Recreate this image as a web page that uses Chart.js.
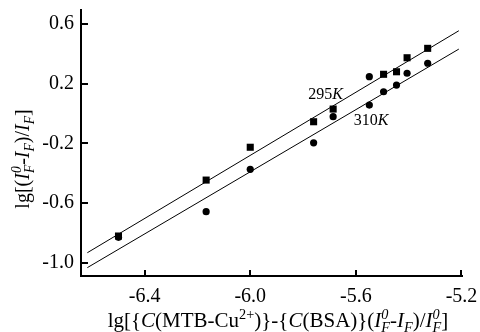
<!DOCTYPE html>
<html>
<head>
<meta charset="utf-8">
<script src="https://cdn.jsdelivr.net/npm/chart.js@4"></script>
<style>
  html, body { margin: 0; padding: 0; background: #fff; }
  #wrap { width: 480px; height: 332px; }
</style>
</head>
<body>
<div id="wrap"><canvas id="myChart" width="480" height="332"></canvas></div>
<script>
// data
const xValues = [-6.499, -6.167, -6.0, -5.760, -5.686, -5.549, -5.495, -5.446, -5.406, -5.328];
const y295 = [-0.821, -0.446, -0.226, -0.055, 0.030, 0.247, 0.263, 0.280, 0.374, 0.437];
const y310 = [-0.830, -0.658, -0.374, -0.196, -0.021, 0.057, 0.146, 0.191, 0.270, 0.337];

// fitted lines (end points)
const lineX = [-6.617, -5.210];
const line295 = [-0.933, 0.555];
const line310 = [-1.033, 0.432];

const xTicks = [-6.4, -6.0, -5.6, -5.2];
const yTicks = [-1.0, -0.6, -0.2, 0.2, 0.6];

const serif = "'Liberation Serif', 'DejaVu Serif', serif";

function pts(xs, ys) {
  return xs.map((x, i) => ({ x: x, y: ys[i] }));
}

// draws text made of pieces (italic / sup / sub)
function richText(ctx, parts, x, y, size) {
  let cx = x;
  parts.forEach((p) => {
    const s = p.sup || p.sub ? size * 0.68 : size;
    ctx.font = (p.it ? "italic " : "") + s + "px " + serif;
    let dy = 0;
    if (p.sup) dy = -size * 0.38;
    if (p.sub) dy = size * 0.24;
    ctx.fillText(p.t, cx, y + dy);
    if (!p.stack) cx += ctx.measureText(p.t).width;
  });
  return cx - x;
}

function richWidth(ctx, parts, size) {
  let w = 0;
  parts.forEach((p) => {
    const s = p.sup || p.sub ? size * 0.68 : size;
    ctx.font = (p.it ? "italic " : "") + s + "px " + serif;
    if (!p.stack) w += ctx.measureText(p.t).width;
  });
  return w;
}

const xTitle = [
  { t: "lg[{" }, { t: "C", it: 1 }, { t: "(MTB-Cu" }, { t: "2+", sup: 1 },
  { t: ")}-{" }, { t: "C", it: 1 }, { t: "(BSA)}(" }, { t: "I", it: 1 },
  { t: "0", sup: 1, it: 1, stack: 1 }, { t: "F", sub: 1, it: 1 },
  { t: "-" }, { t: "I", it: 1 }, { t: "F", sub: 1, it: 1 }, { t: ")/" },
  { t: "I", it: 1 }, { t: "0", sup: 1, it: 1, stack: 1 }, { t: "F", sub: 1, it: 1 },
  { t: "]" },
];
const yTitle = [
  { t: "lg[(" }, { t: "I", it: 1 }, { t: "0", sup: 1, it: 1, stack: 1 },
  { t: "F", sub: 1, it: 1 }, { t: "-" }, { t: "I", it: 1 },
  { t: "F", sub: 1, it: 1 }, { t: ")/" }, { t: "I", it: 1 },
  { t: "F", sub: 1, it: 1 }, { t: "]" },
];

const decor = {
  id: "decor",
  afterDraw(chart) {
    const ctx = chart.ctx;
    const xs = chart.scales.x;
    const ys = chart.scales.y;
    const area = chart.chartArea;
    ctx.save();
    ctx.strokeStyle = "#000";
    ctx.lineWidth = 2;
    // inward tick marks
    xTicks.forEach((v) => {
      const px = Math.round(xs.getPixelForValue(v));
      ctx.beginPath();
      ctx.moveTo(px, area.bottom);
      ctx.lineTo(px, area.bottom - 6);
      ctx.stroke();
    });
    yTicks.forEach((v) => {
      const py = Math.round(ys.getPixelForValue(v));
      ctx.beginPath();
      ctx.moveTo(area.left, py);
      ctx.lineTo(area.left + 7, py);
      ctx.stroke();
    });

    ctx.fillStyle = "#000";
    ctx.textBaseline = "alphabetic";
    ctx.textAlign = "left";
    // series labels
    let lx = xs.getPixelForValue(-5.78);
    let ly = ys.getPixelForValue(0.10);
    richText(ctx, [{ t: "295" }, { t: "K", it: 1 }], lx, ly, 16);
    lx = xs.getPixelForValue(-5.608);
    ly = ys.getPixelForValue(-0.078);
    richText(ctx, [{ t: "310" }, { t: "K", it: 1 }], lx, ly, 16);

    // axis titles
    const w = richWidth(ctx, xTitle, 21);
    richText(ctx, xTitle, 278 - w / 2, 327, 21);

    const wy = richWidth(ctx, yTitle, 20);
    ctx.translate(29, 159);
    ctx.rotate(-Math.PI / 2);
    richText(ctx, yTitle, -wy / 2, 0, 20);
    ctx.restore();
  },
};

new Chart("myChart", {
  type: "scatter",
  data: {
    datasets: [
      {
        data: pts(xValues, y295),
        pointStyle: ["rect", "rect", "rect", "rect", "rect", "circle", "rect", "rect", "rect", "rect"],
        pointRadius: [5, 5, 5, 5, 5, 3.6, 5, 5, 5, 5],
        backgroundColor: "#000",
        borderColor: "#000",
        borderWidth: 0,
      },
      {
        data: pts(xValues, y310),
        pointStyle: "circle",
        pointRadius: 3.6,
        backgroundColor: "#000",
        borderColor: "#000",
        borderWidth: 0,
      },
      {
        data: pts(lineX, line295),
        showLine: true,
        pointRadius: 0,
        borderColor: "#000",
        borderWidth: 1,
      },
      {
        data: pts(lineX, line310),
        showLine: true,
        pointRadius: 0,
        borderColor: "#000",
        borderWidth: 1,
      },
    ],
  },
  options: {
    responsive: false,
    animation: false,
    layout: { padding: { top: 10, right: 18, left: 0, bottom: 0 } },
    plugins: {
      legend: { display: false },
      tooltip: { enabled: false },
    },
    scales: {
      x: {
        type: "linear",
        min: -6.641,
        max: -5.198,
        afterBuildTicks: (s) => { s.ticks = xTicks.map((v) => ({ value: v })); },
        afterFit: (s) => {
          s.height = 56;
          s.paddingLeft = 0;
          s.paddingRight = 0;
        },
        grid: { display: false, drawTicks: false },
        border: { display: true, color: "#000", width: 2 },
        ticks: {
          color: "#000",
          padding: 9,
          maxRotation: 0,
          font: { family: serif, size: 20 },
          callback: (v) => v.toFixed(1),
        },
      },
      y: {
        type: "linear",
        min: -1.089,
        max: 0.694,
        afterBuildTicks: (s) => { s.ticks = yTicks.map((v) => ({ value: v })); },
        afterFit: (s) => {
          s.width = 81;
          s.paddingTop = 0;
          s.paddingBottom = 0;
        },
        grid: { display: false, drawTicks: false },
        border: { display: true, color: "#000", width: 2 },
        ticks: {
          color: "#000",
          padding: 7,
          font: { family: serif, size: 20 },
          callback: (v) => v.toFixed(1),
        },
      },
    },
  },
  plugins: [decor],
});
</script>
</body>
</html>
